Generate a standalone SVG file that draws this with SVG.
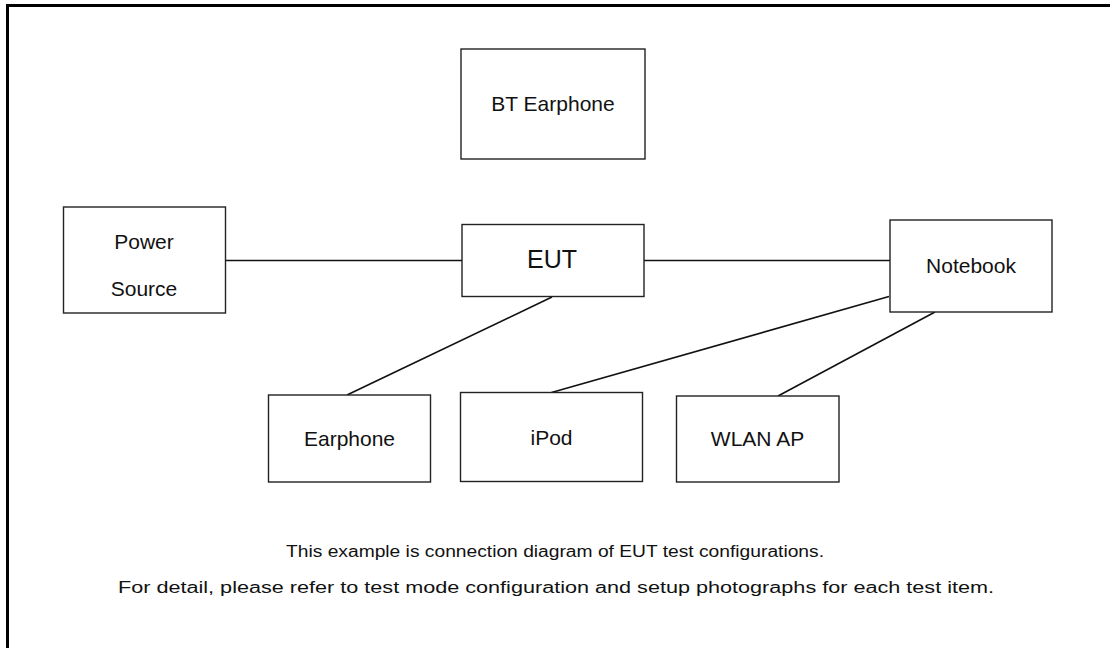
<svg xmlns="http://www.w3.org/2000/svg" width="1110" height="648" viewBox="0 0 1110 648">
<style>
.box{fill:#fff;stroke:#222;stroke-width:1.4}
.lbl{font-family:"Liberation Sans",Arial,sans-serif;font-size:21px;fill:#111;text-anchor:middle}
.conn line{stroke:#111;stroke-width:1.6}
.note{font-family:"Liberation Sans",Arial,sans-serif;font-size:16px;fill:#111;text-anchor:middle}
</style>
<rect width="1110" height="648" fill="#fff"/>
<path d="M7.5 648 V5.5 H1110" fill="none" stroke="#000" stroke-width="3"/>
<g id="connectors" class="conn">
<line x1="225" y1="260.5" x2="462" y2="260.5"/>
<line x1="644" y1="260.5" x2="890" y2="260.5"/>
<line x1="552" y1="297" x2="347" y2="395"/>
<line x1="889" y1="296.5" x2="551.5" y2="392.5"/>
<line x1="935" y1="312" x2="778" y2="396"/>
</g>
<g id="bt-earphone"><rect class="box" x="461" y="49" width="184" height="110"/><text class="lbl" x="553" y="111">BT Earphone</text></g>
<g id="power-source"><rect class="box" x="63.5" y="207" width="162" height="106"/><text class="lbl" x="144" y="249">Power</text><text class="lbl" x="144" y="296">Source</text></g>
<g id="eut"><rect class="box" x="462" y="224.5" width="182" height="72"/><text class="lbl" x="552" y="268" style="font-size:25px">EUT</text></g>
<g id="notebook"><rect class="box" x="890" y="220" width="162" height="92"/><text class="lbl" x="971" y="273">Notebook</text></g>
<g id="earphone"><rect class="box" x="268.5" y="395" width="162" height="87"/><text class="lbl" x="349.5" y="446">Earphone</text></g>
<g id="ipod"><rect class="box" x="460.5" y="392.5" width="182" height="89"/><text class="lbl" x="551.5" y="445">iPod</text></g>
<g id="wlan-ap"><rect class="box" x="676.5" y="396" width="162.5" height="86"/><text class="lbl" x="757.5" y="446">WLAN AP</text></g>
<g id="notes">
<text class="note" x="555" y="557" textLength="538" lengthAdjust="spacingAndGlyphs">This example is connection diagram of EUT test configurations.</text>
<text class="note" x="556" y="593" textLength="876" lengthAdjust="spacingAndGlyphs">For detail, please refer to test mode configuration and setup photographs for each test item.</text>
</g>
</svg>
